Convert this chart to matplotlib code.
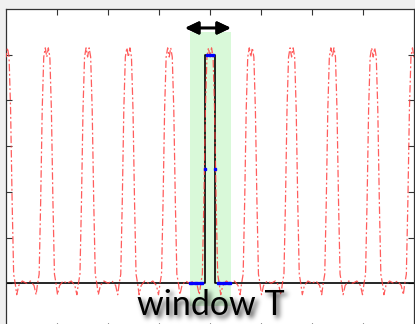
import numpy as np
import matplotlib
matplotlib.use('Agg')
import matplotlib.pyplot as plt
from matplotlib.patches import Rectangle, FancyArrowPatch

# periodic pulse train (red) - one pulse profile, repeated at each centre
pulse_centers = [-0.8, 0.0, 0.8, 1.6, 2.4, 3.2, 4.0, 4.8, 5.6, 6.4, 7.2, 8.0, 8.8]
pulse_dx = [-0.40, -0.32, -0.25, -0.21, -0.18, -0.15, -0.12, -0.09, -0.06, -0.03,
            0.0, 0.03, 0.06, 0.09, 0.12, 0.15, 0.18, 0.21, 0.25, 0.32]
pulse_y = [0.0, 0.01, -0.01, -0.05, 0.0, 0.04, 0.36, 0.76, 0.99, 1.03,
           0.99, 1.03, 0.99, 0.76, 0.36, 0.04, 0.0, -0.05, -0.01, 0.01]

# rectangular window (black) and its samples (blue)
win_x = [0.0, 3.9, 3.9, 4.1, 4.1, 8.0]
win_y = [0.0, 0.0, 1.0, 1.0, 0.0, 0.0]
samp_x = [3.60, 3.65, 3.70, 3.75, 3.80, 3.85, 3.90, 3.95, 4.00, 4.05, 4.10,
          4.15, 4.20, 4.25, 4.30, 4.35, 4.40]
samp_y = [0, 0, 0, 0, 0, 0, 0.5, 1, 1, 1, 0.5, 0, 0, 0, 0, 0, 0]

band = (3.61, 4.41, -0.10, 1.10)
label = 'window T'


def smooth1d(a, sigma):
    r = int(3 * sigma)
    k = np.exp(-0.5 * (np.arange(-r, r + 1) / sigma) ** 2)
    k /= k.sum()
    return np.convolve(a, k, mode='same')


class DropShadow:
    def __init__(self, sigma=2.5, alpha=0.7, ox=3, oy=-3):
        self.sigma, self.alpha, self.ox, self.oy = sigma, alpha, ox, oy

    def __call__(self, im, dpi):
        pad = int(3 * self.sigma) + 6
        src = np.pad(im, [(pad, pad), (pad, pad), (0, 0)], 'constant')
        a = src[:, :, 3]
        a = np.apply_along_axis(smooth1d, 0, a, self.sigma)
        a = np.apply_along_axis(smooth1d, 1, a, self.sigma)
        a = np.roll(a, self.ox, axis=1)
        a = np.roll(a, -self.oy, axis=0)
        out = np.zeros_like(src)
        out[:, :, 3] = np.clip(a * self.alpha, 0, 1)
        return out, -pad, -pad


fig = plt.figure(figsize=(4.15, 3.24), dpi=100)
fig.patch.set_facecolor('#f0f0f0')
ax = fig.add_axes([6 / 415, -5 / 324, 408 / 415, 320 / 324])
ax.set_xlim(0, 8)
ax.set_ylim(-0.2, 1.2)

ax.add_patch(Rectangle((band[0], band[2]), band[1] - band[0], band[3] - band[2],
                       facecolor='#d9f9d9', edgecolor='none', zorder=0))

ax.plot(win_x, win_y, color='black', lw=1.2, zorder=2)

px, py = [], []
for c in pulse_centers:
    px += [c + d for d in pulse_dx]
    py += pulse_y
ax.plot(px, py, color='#ff4040', lw=0.9, alpha=0.85,
        linestyle=(0, (6, 2, 1.5, 2)), zorder=3)

ax.plot(samp_x, samp_y, linestyle='none', marker='s', ms=1.6,
        color='blue', mec='blue', zorder=4)

ax.set_xticks([1, 2, 3, 4, 5, 6, 7])
ax.set_yticks([0, 0.2, 0.4, 0.6, 0.8, 1.0])
ax.tick_params(direction='in', length=4, width=0.8, top=True, right=True,
               labelbottom=False, labelleft=False, color='#333333')
for s in ax.spines.values():
    s.set_color('#333333')
    s.set_linewidth(0.9)

# double arrow above the band, with a soft shadow
for shadow in (True, False):
    arr = FancyArrowPatch((3.51, 1.117), (4.41, 1.117),
                          arrowstyle='<|-|>,head_length=0.8,head_width=0.38',
                          mutation_scale=10, lw=1.9, color='black',
                          shrinkA=0, shrinkB=0, zorder=6)
    if shadow:
        arr.set_agg_filter(DropShadow(sigma=3, alpha=0.5, ox=2, oy=-6))
        arr.set_zorder(5)
    ax.add_patch(arr)

for shadow in (True, False):
    t = fig.text(0.507, 1 - 315 / 324, label, ha='center', va='baseline',
                 fontsize=24.5, family='Lato', color='black')
    if shadow:
        t.set_agg_filter(DropShadow(sigma=2.5, alpha=0.75, ox=3, oy=-3))
        t.set_zorder(t.get_zorder() - 0.5)

fig.savefig('out.png', dpi=100, facecolor=fig.get_facecolor())
